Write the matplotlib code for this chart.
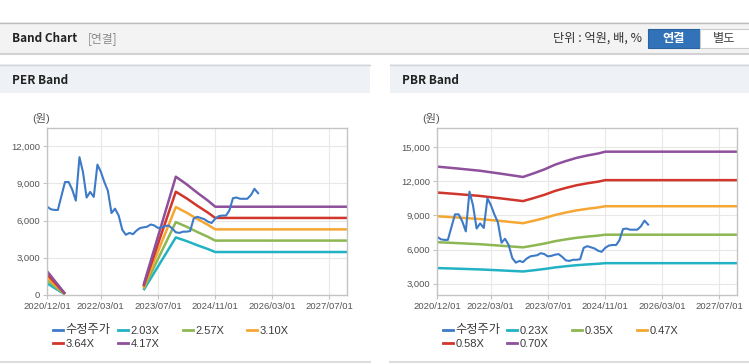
import numpy as np
import pandas as pd
import matplotlib
matplotlib.use('Agg')
import matplotlib.pyplot as plt
import matplotlib.dates as mdates
from matplotlib.patches import Rectangle
from matplotlib.lines import Line2D
from matplotlib.ticker import FuncFormatter

plt.rcParams['font.family'] = ['Liberation Sans', 'Noto Sans CJK KR', 'DejaVu Sans']

# 수정주가 (월별, 2020/12 ~ 2025/11)
price_start = '2020-12-01'
price = [7110, 6900, 6850, 6850, 8000, 9100, 9100, 8500, 7600, 11100,
         9900, 7850, 8300, 7900, 10500, 9950, 9100, 8400, 6600, 6950,
         6400, 5250, 4850, 5000, 4900, 5200, 5400, 5450, 5500, 5680,
         5600, 5400, 5450, 5550, 5600, 5350, 5050, 5000, 5100, 5100,
         5150, 6150, 6300, 6200, 6100, 5900, 5800, 6150, 6350, 6400,
         6400, 6800, 7800, 7850, 7750, 7750, 7750, 8050, 8550, 8200]

# PER 밴드: EPS (원), 적자 구간은 비움
eps_dates = ['2020-12-01', '2021-05-01', '2021-06-01', '2023-03-01', '2023-12-01',
             '2024-03-01', '2024-06-01', '2024-09-01', '2024-11-01', '2027-12-01']
eps = [455, 25, np.nan, 193, 2285, 2140, 1975, 1820, 1705, 1705]
per_mult = [2.03, 2.57, 3.10, 3.64, 4.17]
per_labels = ['2.03X', '2.57X', '3.10X', '3.64X', '4.17X']

# PBR 밴드: BPS (원)
bps_dates = ['2020-12-01', '2021-06-01', '2021-12-01', '2022-06-01', '2022-12-01',
             '2023-03-01', '2023-06-01', '2023-09-01', '2023-12-01', '2024-03-01',
             '2024-06-01', '2024-09-01', '2024-11-01', '2027-12-01']
bps = [19000, 18750, 18480, 18100, 17700, 18150, 18650, 19250, 19700, 20100,
       20400, 20650, 20880, 20880]
pbr_mult = [0.23, 0.35, 0.47, 0.58, 0.70]
pbr_labels = ['0.23X', '0.35X', '0.47X', '0.58X', '0.70X']

x_ticks = ['2020/12/01', '2022/03/01', '2023/07/01', '2024/11/01', '2026/03/01', '2027/07/01']

price_color = '#3d7ac8'
band_colors = ['#22b2c3', '#8db752', '#f5a733', '#d0362b', '#8e4f9c']

W, H = 749, 364
fig = plt.figure(figsize=(W / 100, H / 100), dpi=100)

# 배경 (픽셀 좌표)
bg = fig.add_axes([0, 0, 1, 1])
bg.set_xlim(0, W)
bg.set_ylim(H, 0)
bg.axis('off')

bg.add_patch(Rectangle((0, 22), W, 31, fc='#f3f3f3', ec='none'))
bg.plot([0, W], [22.5, 22.5], color='#bdbdbd', lw=1)
bg.plot([0, W], [53.5, 53.5], color='#d2d2d2', lw=1.5)
bg.text(12, 38.5, 'Band Chart', fontsize=8.5, fontweight='bold', color='#222222',
        family=['Noto Sans CJK KR'], va='center')
bg.text(88, 38.5, '[연결]', fontsize=8.5, color='#8a8a8a', family=['Noto Sans CJK KR'], va='center')
bg.text(642, 38.5, '단위 : 억원, 배, %', fontsize=8.8, color='#333333',
        family=['Noto Sans CJK KR'], va='center', ha='right')
bg.add_patch(Rectangle((648, 29), 52, 19, fc='#3272b8', ec='#2a62a0', lw=0.8))
bg.text(674, 38.5, '연결', fontsize=8.8, fontweight='bold', color='white',
        family=['Noto Sans CJK KR'], va='center', ha='center')
bg.add_patch(Rectangle((700, 29), 52, 19, fc='white', ec='#cccccc', lw=0.8))
bg.text(724, 38.5, '별도', fontsize=8.8, color='#444444',
        family=['Noto Sans CJK KR'], va='center', ha='center')

for px0, px1, title in [(0, 370, 'PER Band'), (390, W, 'PBR Band')]:
    bg.add_patch(Rectangle((px0, 64), px1 - px0, 29, fc='#eef1f6', ec='none'))
    bg.plot([px0, px1], [64.5, 64.5], color='#d4d4d4', lw=1)
    bg.plot([px0, px1], [362, 362], color='#dddddd', lw=1.5)
    bg.text(px0 + 12, 80.5, title, fontsize=8.5, fontweight='bold', color='#222222',
            family=['Noto Sans CJK KR'], va='center')

price_dates = pd.date_range(price_start, periods=len(price), freq='MS')
eps_x = pd.to_datetime(eps_dates)
bps_x = pd.to_datetime(bps_dates)
tick_x = pd.to_datetime(x_ticks, format='%Y/%m/%d')


def draw_chart(left, ylim, yticks, base_x, base, mults, labels, leg_left):
    ax = fig.add_axes([left / W, 1 - 295 / H, 300 / W, 167 / H])
    ax.set_xlim(pd.Timestamp('2020-12-01'), pd.Timestamp('2027-12-01'))
    ax.set_ylim(*ylim)
    ax.set_xticks(tick_x)
    ax.xaxis.set_major_formatter(mdates.DateFormatter('%Y/%m/%d'))
    ax.set_yticks(yticks)
    ax.yaxis.set_major_formatter(FuncFormatter(lambda v, p: f'{v:,.0f}'))
    ax.grid(True, color='#e8e8e8', lw=0.8)
    ax.set_axisbelow(True)
    for s in ax.spines.values():
        s.set_color('#c4c4c4')
        s.set_linewidth(1)
    ax.tick_params(length=3, color='#c4c4c4', labelsize=6.8, labelcolor='#555555', pad=2)

    base = np.array(base, dtype=float)
    for m, c in zip(mults, band_colors):
        ax.plot(base_x, base * m, color=c, lw=1.8, solid_capstyle='butt')
    ax.plot(price_dates, price, color=price_color, lw=1.5)

    ax.text(left - 15, 118, '(원)', transform=bg.transData, fontsize=8, color='#555555',
            va='center', ha='left')

    # 범례
    names = ['수정주가'] + labels
    cols = [price_color] + band_colors
    for i, (n, c) in enumerate(zip(names, cols)):
        row, col = divmod(i, 4)
        lx = leg_left + col * 64.7
        ly = 330 + row * 13.3
        bg.add_line(Line2D([lx, lx + 10], [ly, ly], color=c, lw=2))
        bg.text(lx + 12.5, ly + 0.5, n, fontsize=8 if i else 8.8, color='#3a3a3a', va='center')
    return ax


draw_chart(47.3, (0, 13450), [0, 3000, 6000, 9000, 12000], eps_x, eps, per_mult,
           per_labels, 53.3)
draw_chart(437.3, (2000, 16700), [3000, 6000, 9000, 12000, 15000], bps_x, bps, pbr_mult,
           pbr_labels, 442.7)

fig.savefig('out.png', dpi=100)
